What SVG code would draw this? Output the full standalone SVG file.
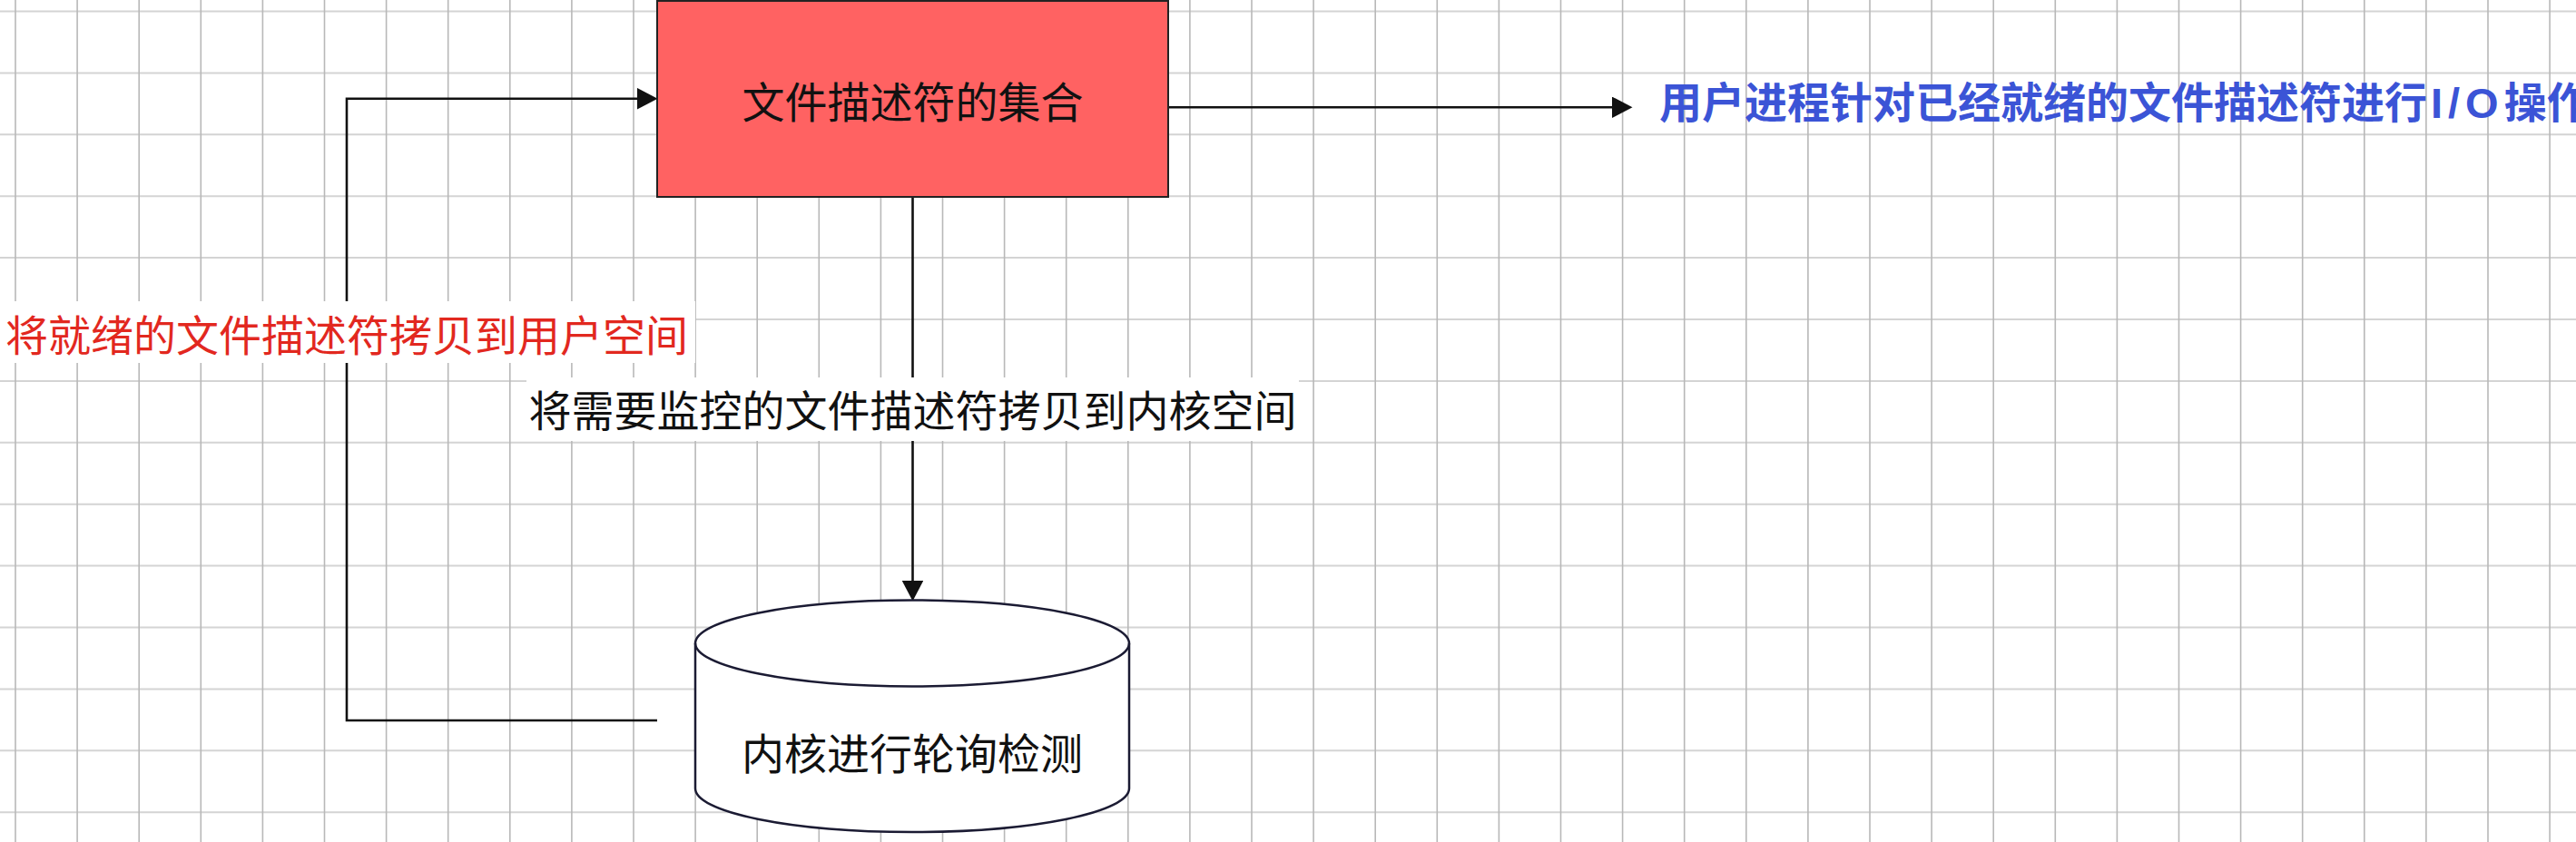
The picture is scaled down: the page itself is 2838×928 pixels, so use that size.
<svg xmlns="http://www.w3.org/2000/svg" width="2838" height="928" viewBox="0 0 2838 928">
  <style>
    .gridv { stroke: #b8b8b8; stroke-width: 1.6; fill: none; }
    .gridh { stroke: #d4d4d4; stroke-width: 2; fill: none; }
    .edge { stroke: #111111; stroke-width: 2.6; fill: none; }
    .lbl { font-family: 'Liberation Sans', 'Noto Sans CJK SC', sans-serif; font-size: 47px; text-anchor: middle; }
    .nodetxt { font-family: 'Liberation Sans', 'Noto Sans CJK SC', sans-serif; font-size: 47px; text-anchor: middle; fill: #111111; }
  </style>
  <defs>
    <marker id="arrow" markerUnits="userSpaceOnUse" markerWidth="23" markerHeight="24" refX="0" refY="11.75" orient="auto">
      <path d="M0,0 L22.5,11.75 L0,23.5 Z" fill="#111111"/>
    </marker>
  </defs>
  <rect x="0" y="0" width="2838" height="928" fill="#ffffff"/>
  <g id="grid">
    <path class="gridh" d="M0 12.5H2838M0 80.4H2838M0 148.3H2838M0 216.2H2838M0 284.1H2838M0 352H2838M0 419.9H2838M0 487.8H2838M0 555.7H2838M0 623.6H2838M0 691.5H2838M0 759.4H2838M0 827.3H2838M0 895.2H2838"/>
    <path class="gridv" d="M17 0V928M85.1 0V928M153.2 0V928M221.3 0V928M289.4 0V928M357.5 0V928M425.6 0V928M493.7 0V928M561.8 0V928M629.9 0V928M698 0V928M766.1 0V928M834.2 0V928M902.3 0V928M970.4 0V928M1038.5 0V928M1106.6 0V928M1174.7 0V928M1242.8 0V928M1310.9 0V928M1379 0V928M1447.1 0V928M1515.2 0V928M1583.3 0V928M1651.4 0V928M1719.5 0V928M1787.6 0V928M1855.7 0V928M1923.8 0V928M1991.9 0V928M2060 0V928M2128.1 0V928M2196.2 0V928M2264.3 0V928M2332.4 0V928M2400.5 0V928M2468.6 0V928M2536.7 0V928M2604.8 0V928M2672.9 0V928M2741 0V928M2809.1 0V928"/>
  </g>
  <g id="connectors">
    <path id="e-return" class="edge" d="M724,794 H382 V108.7 H702" marker-end="url(#arrow)"/>
    <path id="e-copy-in" class="edge" d="M1005.5,217 V640" marker-end="url(#arrow)"/>
    <path id="e-io" class="edge" d="M1287,118.3 H1776" marker-end="url(#arrow)"/>
    <g id="label-return">
      <rect x="-1" y="332" width="767" height="68" fill="#ffffff"/>
      <text class="lbl" x="382" y="387" fill="#e2281f">将就绪的文件描述符拷贝到用户空间</text>
    </g>
    <g id="label-copy-in">
      <rect x="580" y="416" width="851" height="70" fill="#ffffff"/>
      <text class="lbl" x="1005.5" y="470" fill="#111111">将需要监控的文件描述符拷贝到内核空间</text>
    </g>
  </g>
  <g id="node-fdset">
    <rect x="724" y="1" width="563" height="216" fill="#ff6262" stroke="#222222" stroke-width="2"/>
    <text class="nodetxt" x="1005.5" y="130" font-size="48">文件描述符的集合</text>
  </g>
  <g id="node-kernel">
    <path d="M766,709 A239,47.5 0 0 1 1244,709 V869 A239,48 0 0 1 766,869 Z" fill="#ffffff" stroke="#1b1b33" stroke-width="2.5"/>
    <path d="M766,709 A239,47.5 0 0 0 1244,709" fill="none" stroke="#1b1b33" stroke-width="2.5"/>
    <text class="nodetxt" x="1005" y="848" font-size="46">内核进行轮询检测</text>
  </g>
  <g id="node-userio">
    <text x="1828" y="130" font-family="'Liberation Sans', 'Noto Sans CJK SC', sans-serif" font-size="47" font-weight="bold" fill="#3b54d6">用户进程针对已经就绪的文件描述符进行<tspan dx="4" letter-spacing="6">I/O</tspan>操作</text>
  </g>
</svg>
